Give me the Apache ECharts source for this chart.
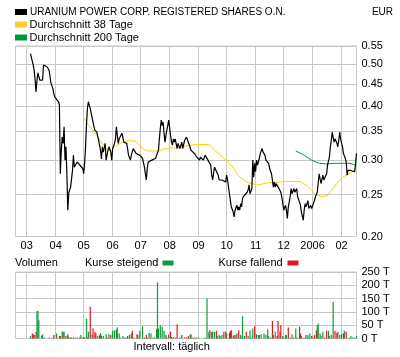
<!DOCTYPE html>
<html><head><meta charset="utf-8">
<script src="https://cdn.jsdelivr.net/npm/echarts@6/dist/echarts.min.js"></script>
<style>html,body{margin:0;padding:0;background:#fff}#c{width:400px;height:357px}</style>
</head><body><div id="c"></div>
<script>
// ---------- data ----------
const axisStart = '2005-02-17';
const axisEnd = '2006-02-17';
const monthTickDates = ['2005-03-01','2005-04-01','2005-05-01','2005-06-01','2005-07-01','2005-08-01','2005-09-01','2005-10-01','2005-11-01','2005-12-01','2006-01-01','2006-02-01'];
const monthTickLabels = ['03','04','05','06','07','08','09','10','11','12','2006','02'];
const priceTicks = [0.20,0.25,0.30,0.35,0.40,0.45,0.50,0.55];
const volumeTicks = [0,50,100,150,200,250];

const priceDates = [
'2005-03-05','2005-03-08','2005-03-09','2005-03-10','2005-03-11','2005-03-12','2005-03-13','2005-03-14','2005-03-15','2005-03-18','2005-03-19','2005-03-20','2005-03-23','2005-03-25','2005-03-27','2005-03-29','2005-03-30','2005-03-31',
'2005-04-02','2005-04-04','2005-04-05','2005-04-06','2005-04-07','2005-04-08','2005-04-09','2005-04-10','2005-04-11','2005-04-12','2005-04-13','2005-04-14','2005-04-15','2005-04-17','2005-04-19','2005-04-20','2005-04-21','2005-04-22','2005-04-24','2005-04-25','2005-04-26','2005-04-27','2005-04-29','2005-04-30',
'2005-05-01','2005-05-02','2005-05-03','2005-05-04','2005-05-05','2005-05-06','2005-05-08','2005-05-09','2005-05-10','2005-05-12','2005-05-13','2005-05-15','2005-05-17','2005-05-19','2005-05-20','2005-05-21','2005-05-22','2005-05-24','2005-05-25','2005-05-27','2005-05-28','2005-05-30','2005-05-31',
'2005-06-01','2005-06-03','2005-06-04','2005-06-05','2005-06-06','2005-06-07','2005-06-08','2005-06-10','2005-06-11','2005-06-12','2005-06-13','2005-06-15','2005-06-16','2005-06-17','2005-06-18','2005-06-20','2005-06-21','2005-06-23','2005-06-25','2005-06-26','2005-06-28','2005-06-30',
'2005-07-02','2005-07-03','2005-07-05','2005-07-06','2005-07-07','2005-07-08','2005-07-09','2005-07-11','2005-07-13','2005-07-15','2005-07-17','2005-07-18','2005-07-20','2005-07-21','2005-07-22','2005-07-23','2005-07-24','2005-07-25','2005-07-26','2005-07-27','2005-07-28','2005-07-29','2005-07-30','2005-07-31',
'2005-08-02','2005-08-03','2005-08-04','2005-08-05','2005-08-06','2005-08-07','2005-08-09','2005-08-10','2005-08-12','2005-08-14','2005-08-15','2005-08-17','2005-08-19','2005-08-21','2005-08-22','2005-08-24','2005-08-25','2005-08-26','2005-08-28','2005-08-30','2005-08-31',
'2005-09-02','2005-09-03','2005-09-05','2005-09-06','2005-09-08','2005-09-09','2005-09-11','2005-09-13','2005-09-14','2005-09-15','2005-09-16','2005-09-18','2005-09-19','2005-09-20','2005-09-22','2005-09-23','2005-09-25','2005-09-26','2005-09-28','2005-09-30',
'2005-10-01','2005-10-02','2005-10-03','2005-10-04','2005-10-05','2005-10-06','2005-10-08','2005-10-09','2005-10-10','2005-10-12','2005-10-13','2005-10-14','2005-10-15','2005-10-16','2005-10-17','2005-10-18','2005-10-20','2005-10-21','2005-10-23','2005-10-24','2005-10-25','2005-10-26','2005-10-28','2005-10-29','2005-10-30','2005-10-31',
'2005-11-01','2005-11-02','2005-11-03','2005-11-05','2005-11-06','2005-11-08','2005-11-09','2005-11-11','2005-11-12','2005-11-14','2005-11-15','2005-11-16','2005-11-18','2005-11-19','2005-11-20','2005-11-21','2005-11-22','2005-11-23','2005-11-25','2005-11-26','2005-11-28','2005-11-29','2005-11-30',
'2005-12-01','2005-12-03','2005-12-04','2005-12-05','2005-12-06','2005-12-07','2005-12-08','2005-12-09','2005-12-10','2005-12-12','2005-12-13','2005-12-15','2005-12-16','2005-12-18','2005-12-19','2005-12-20','2005-12-22','2005-12-23','2005-12-24','2005-12-25','2005-12-27','2005-12-28','2005-12-30','2005-12-31',
'2006-01-01','2006-01-03','2006-01-04','2006-01-06','2006-01-07','2006-01-08','2006-01-09','2006-01-10','2006-01-12','2006-01-13','2006-01-14','2006-01-16','2006-01-17','2006-01-18','2006-01-19','2006-01-20','2006-01-21','2006-01-22','2006-01-23','2006-01-24','2006-01-25','2006-01-27','2006-01-28','2006-01-29','2006-01-30','2006-01-31',
'2006-02-02','2006-02-03','2006-02-05','2006-02-06','2006-02-07','2006-02-08','2006-02-09','2006-02-11','2006-02-12','2006-02-13','2006-02-15','2006-02-16','2006-02-17'];
const priceClose = [
0.528,0.497,0.483,0.459,0.431,0.459,0.477,0.468,0.459,0.459,0.497,0.498,0.492,0.483,0.451,0.439,0.427,0.420,
0.416,0.409,0.402,0.279,0.316,0.339,0.328,0.358,0.300,0.322,0.279,0.230,0.252,0.260,0.284,0.308,0.289,0.292,0.297,0.295,0.300,0.292,0.295,0.287,
0.279,0.295,0.322,0.364,0.395,0.409,0.395,0.398,0.391,0.358,0.352,0.348,0.333,0.316,0.302,0.322,0.313,0.328,0.300,0.316,0.322,0.313,0.300,
0.319,0.328,0.336,0.358,0.342,0.328,0.336,0.333,0.346,0.348,0.330,0.333,0.328,0.319,0.308,0.300,0.308,0.319,0.316,0.311,0.313,0.308,
0.311,0.303,0.289,0.292,0.270,0.287,0.297,0.300,0.300,0.301,0.303,0.308,0.316,0.336,0.355,0.371,0.361,0.367,0.346,0.330,0.342,0.352,0.361,0.371,
0.342,0.330,0.325,0.336,0.330,0.336,0.319,0.328,0.319,0.330,0.319,0.333,0.339,0.330,0.328,0.316,0.319,0.313,0.310,0.305,0.308,
0.300,0.305,0.308,0.300,0.308,0.311,0.300,0.300,0.292,0.277,0.270,0.289,0.289,0.289,0.277,0.270,0.270,0.270,0.272,0.267,
0.277,0.270,0.260,0.251,0.242,0.234,0.228,0.222,0.230,0.236,0.230,0.234,0.230,0.238,0.234,0.245,0.249,0.247,0.253,0.256,0.263,0.251,0.258,0.300,0.274,0.295,
0.282,0.300,0.292,0.303,0.311,0.319,0.313,0.308,0.300,0.300,0.295,0.287,0.279,0.270,0.260,0.267,0.260,0.265,0.263,0.258,0.253,0.247,0.240,
0.230,0.236,0.230,0.220,0.234,0.240,0.247,0.258,0.251,0.258,0.253,0.258,0.247,0.240,0.236,0.228,0.218,0.230,0.238,0.234,0.242,0.232,0.236,0.232,
0.234,0.242,0.247,0.253,0.265,0.279,0.279,0.265,0.277,0.270,0.270,0.279,0.292,0.295,0.305,0.322,0.333,0.348,0.339,0.330,0.336,0.328,0.322,0.333,0.348,0.336,
0.322,0.311,0.303,0.297,0.277,0.284,0.287,0.284,0.284,0.282,0.282,0.295,0.311];

const ma38Dates = ['2005-05-01','2005-05-06','2005-05-11','2005-05-16','2005-05-22','2005-05-27','2005-05-31','2005-06-03','2005-06-09','2005-06-14','2005-06-19','2005-06-25','2005-06-28','2005-07-03','2005-07-09','2005-07-16','2005-07-21','2005-07-27','2005-08-01','2005-08-08','2005-08-15','2005-08-20','2005-08-24','2005-08-31','2005-09-08','2005-09-13','2005-09-18','2005-09-25','2005-10-02','2005-10-08','2005-10-13','2005-10-19','2005-10-24','2005-10-28','2005-11-02','2005-11-07','2005-11-14','2005-11-27','2005-12-07','2005-12-18','2005-12-25','2005-12-31','2006-01-05','2006-01-12','2006-01-17','2006-01-23','2006-01-28','2006-02-02','2006-02-08','2006-02-13','2006-02-17'];
const ma38Values = [0.376,0.361,0.352,0.339,0.325,0.316,0.316,0.322,0.328,0.331,0.333,0.332,0.328,0.319,0.315,0.315,0.315,0.319,0.320,0.320,0.322,0.324,0.325,0.326,0.326,0.325,0.316,0.308,0.297,0.289,0.277,0.270,0.266,0.265,0.263,0.264,0.266,0.267,0.268,0.268,0.263,0.256,0.249,0.247,0.249,0.258,0.267,0.274,0.278,0.282,0.285];

const ma200Dates = ['2005-12-14','2005-12-22','2005-12-31','2006-01-08','2006-01-16','2006-01-25','2006-02-02','2006-02-10','2006-02-17'];
const ma200Values = [0.315,0.309,0.300,0.295,0.294,0.295,0.295,0.295,0.292];

// volume in thousands (T), days with rising prices
const volUpDates = ['2005-03-05','2005-03-12','2005-03-13','2005-03-14','2005-03-17','2005-03-18','2005-03-20','2005-04-02','2005-04-08','2005-04-09','2005-04-10','2005-04-15','2005-04-17','2005-04-18','2005-04-20','2005-04-22','2005-04-28','2005-04-30','2005-05-04','2005-05-06','2005-05-10','2005-05-16','2005-05-19','2005-05-22','2005-05-25','2005-05-28','2005-06-01','2005-06-03','2005-06-05','2005-06-06','2005-06-08','2005-06-09','2005-06-12','2005-06-16','2005-06-17','2005-06-21','2005-06-24','2005-06-28','2005-06-30','2005-07-03','2005-07-05','2005-07-10','2005-07-12','2005-07-14','2005-07-18','2005-07-19','2005-07-20','2005-07-22','2005-07-24','2005-07-26','2005-07-29','2005-07-31','2005-08-03','2005-08-05','2005-08-07','2005-08-12','2005-08-17','2005-08-23','2005-08-24','2005-08-26','2005-08-30','2005-09-01','2005-09-08','2005-09-10','2005-09-12','2005-09-15','2005-09-16','2005-09-18','2005-09-21','2005-09-23','2005-09-24','2005-09-26','2005-09-30','2005-10-01','2005-10-08','2005-10-12','2005-10-16','2005-10-17','2005-10-18','2005-10-20','2005-10-24','2005-10-26','2005-10-27','2005-10-29','2005-11-02','2005-11-04','2005-11-05','2005-11-07','2005-11-10','2005-11-12','2005-11-14','2005-11-15','2005-11-20','2005-11-22','2005-11-27','2005-11-30','2005-12-03','2005-12-04','2005-12-08','2005-12-10','2005-12-14','2005-12-15','2005-12-20','2005-12-22','2005-12-25','2005-12-27','2005-12-29','2006-01-01','2006-01-06','2006-01-07','2006-01-09','2006-01-10','2006-01-12','2006-01-18','2006-01-19','2006-01-21','2006-01-23','2006-01-28','2006-01-30','2006-02-04','2006-02-09','2006-02-11','2006-02-13','2006-02-15','2006-02-17'];
const volUpValues = [9,103,103,69,11,15,4,19,25,25,25,6,4,4,4,4,13,4,75,25,15,9,21,9,16,16,29,31,34,42,19,4,9,4,9,19,4,13,29,46,4,21,19,4,36,211,38,50,44,29,4,15,6,6,4,4,4,16,15,4,4,4,4,150,25,25,25,25,9,13,9,13,26,19,9,19,13,4,84,9,9,31,4,38,16,13,13,16,19,13,35,9,13,25,25,9,13,13,4,16,38,4,9,4,13,13,19,4,50,56,19,9,25,29,9,13,138,25,13,29,4,9,4,4,9];
// days with falling prices
const volDownDates = ['2005-03-07','2005-03-08','2005-03-09','2005-03-11','2005-03-25','2005-03-29','2005-03-30','2005-04-05','2005-04-06','2005-04-12','2005-04-14','2005-04-24','2005-04-27','2005-05-01','2005-05-02','2005-05-05','2005-05-08','2005-05-11','2005-05-13','2005-05-14','2005-05-18','2005-05-20','2005-05-26','2005-05-30','2005-06-14','2005-06-19','2005-06-22','2005-06-27','2005-07-07','2005-07-08','2005-07-16','2005-07-28','2005-08-02','2005-08-09','2005-08-14','2005-08-19','2005-08-21','2005-08-28','2005-09-13','2005-09-20','2005-09-28','2005-10-04','2005-10-05','2005-10-06','2005-10-09','2005-10-11','2005-10-14','2005-10-22','2005-10-31','2005-11-17','2005-11-19','2005-11-24','2005-11-25','2005-11-28','2005-12-01','2005-12-06','2005-12-12','2005-12-18','2005-12-19','2005-12-24','2005-12-31','2006-01-03','2006-01-05','2006-01-14','2006-01-16','2006-01-25','2006-01-27','2006-02-01','2006-02-03','2006-02-06'];
const volDownValues = [19,16,13,24,4,3,13,9,9,9,16,4,6,6,4,4,118,39,24,19,13,10,4,13,4,13,29,16,13,4,4,13,25,54,13,4,9,4,31,29,25,21,29,31,13,13,31,25,46,4,66,9,66,50,4,41,4,44,19,4,9,13,31,4,29,29,21,16,19,25];

// ---------- chart ----------
const FONT = '"Liberation Sans", Arial, sans-serif';
const GRID = '#c8c8c8';
const C_PRICE = '#000000', C_MA38 = '#ffcc00', C_MA200 = '#00993a';
const C_UP = '#0f9a3c', C_DOWN = '#e8141c';

function ts(s){ const p = s.split('-').map(Number); return new Date(p[0], p[1]-1, p[2]).getTime(); }
const xMin = ts(axisStart), xMax = ts(axisEnd);
const monthTickValues = monthTickDates.map(ts);
function monthLabel(v){
  let best = 0, bd = Infinity;
  monthTickValues.forEach((t,i)=>{ const d = Math.abs(t - v); if (d < bd){ bd = d; best = i; } });
  return bd < 86400000 ? monthTickLabels[best] : '';
}
const logTicks = priceTicks.map(Math.log);

const volData = [];
volUpDates.forEach((d,i)=>volData.push({value:[ts(d), volUpValues[i]], itemStyle:{color:C_UP}}));
volDownDates.forEach((d,i)=>volData.push({value:[ts(d), volDownValues[i]], itemStyle:{color:C_DOWN}}));
volData.sort((a,b)=>a.value[0]-b.value[0]);

const labelStyle = {fontSize:11, color:'#000', fontFamily:FONT};

const chart = echarts.init(document.getElementById('c'));
chart.setOption({
  animation:false,
  backgroundColor:'#fff',
  grid:[
    {left:15.5, top:46, width:341, height:190.5, show:true, borderColor:GRID, borderWidth:1},
    {left:15.5, top:272, width:341, height:66.5, show:true, borderColor:GRID, borderWidth:1}
  ],
  xAxis:[
    {type:'value', gridIndex:0, min:xMin, max:xMax,
     axisLine:{show:false}, axisTick:{show:false, customValues:monthTickValues},
     axisLabel:Object.assign({customValues:monthTickValues, formatter:monthLabel, margin:4, showMinLabel:true, showMaxLabel:true}, labelStyle),
     splitLine:{show:true, lineStyle:{color:GRID, width:1}}},
    {type:'value', gridIndex:1, min:xMin, max:xMax,
     axisLine:{show:false}, axisTick:{show:false, customValues:monthTickValues},
     axisLabel:{show:false},
     splitLine:{show:true, lineStyle:{color:GRID, width:1}}}
  ],
  yAxis:[
    {type:'value', gridIndex:0, position:'right', min:logTicks[0], max:logTicks[logTicks.length-1],
     axisLine:{show:false}, axisTick:{show:false, customValues:logTicks},
     axisLabel:Object.assign({customValues:logTicks, formatter:v=>Math.exp(v).toFixed(2), margin:5, showMinLabel:true, showMaxLabel:true}, labelStyle),
     splitLine:{show:true, lineStyle:{color:GRID, width:1}}},
    {type:'value', gridIndex:1, position:'right', min:volumeTicks[0], max:volumeTicks[volumeTicks.length-1], interval:50,
     axisLine:{show:false}, axisTick:{show:false},
     axisLabel:Object.assign({formatter:v=>v+' T', margin:5, showMinLabel:true, showMaxLabel:true}, labelStyle),
     splitLine:{show:true, lineStyle:{color:GRID, width:1}}}
  ],
  series:[
    {name:'URANIUM POWER CORP. REGISTERED SHARES O.N.', type:'line', xAxisIndex:0, yAxisIndex:0, showSymbol:false, z:4,
     lineStyle:{color:C_PRICE, width:1.2}, data:priceDates.map((d,i)=>[ts(d), Math.log(priceClose[i])])},
    {name:'Durchschnitt 38 Tage', type:'line', xAxisIndex:0, yAxisIndex:0, showSymbol:false, z:3,
     lineStyle:{color:C_MA38, width:1}, data:ma38Dates.map((d,i)=>[ts(d), Math.log(ma38Values[i])])},
    {name:'Durchschnitt 200 Tage', type:'line', xAxisIndex:0, yAxisIndex:0, showSymbol:false, z:3,
     lineStyle:{color:C_MA200, width:1}, data:ma200Dates.map((d,i)=>[ts(d), Math.log(ma200Values[i])])},
    {name:'Volumen', type:'bar', xAxisIndex:1, yAxisIndex:1, barWidth:1.2, data:volData}
  ],
  graphic:[
    {type:'rect', shape:{x:15, y:9, width:12, height:6}, style:{fill:C_PRICE}},
    {type:'text', style:{x:30, y:12, text:'URANIUM POWER CORP. REGISTERED SHARES O.N.', font:'10px '+FONT, fill:'#000', verticalAlign:'middle'}},
    {type:'text', style:{x:393, y:12, text:'EUR', font:'10px '+FONT, fill:'#000', align:'right', verticalAlign:'middle'}},
    {type:'rect', shape:{x:15, y:21.5, width:12, height:6}, style:{fill:'#ffcc33'}},
    {type:'text', style:{x:29.5, y:24.5, text:'Durchschnitt 38 Tage', font:'11px '+FONT, fill:'#000', verticalAlign:'middle'}},
    {type:'rect', shape:{x:15, y:34.5, width:12, height:6}, style:{fill:C_MA200}},
    {type:'text', style:{x:29.5, y:37.5, text:'Durchschnitt 200 Tage', font:'11px '+FONT, fill:'#000', verticalAlign:'middle'}},
    {type:'text', style:{x:15, y:262.5, text:'Volumen', font:'11px '+FONT, fill:'#000', verticalAlign:'middle'}},
    {type:'text', style:{x:85, y:262.5, text:'Kurse steigend', font:'11px '+FONT, fill:'#000', verticalAlign:'middle'}},
    {type:'rect', shape:{x:162.5, y:260.5, width:11, height:5}, style:{fill:C_UP}},
    {type:'text', style:{x:218.5, y:262.5, text:'Kurse fallend', font:'11px '+FONT, fill:'#000', verticalAlign:'middle'}},
    {type:'rect', shape:{x:287.5, y:260.5, width:11, height:5}, style:{fill:C_DOWN}},
    {type:'text', style:{x:133.5, y:347, text:'Intervall: täglich', font:'11px '+FONT, fill:'#000', verticalAlign:'middle'}}
  ]
});
</script></body></html>
